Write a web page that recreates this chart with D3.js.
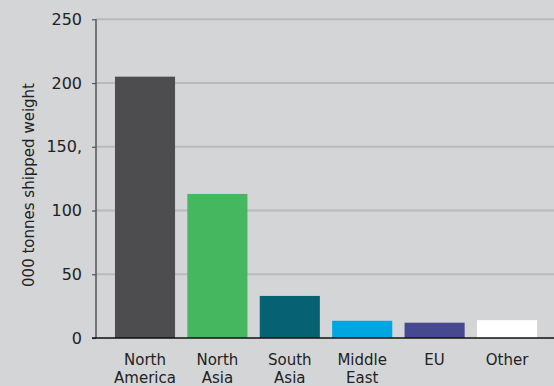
<!DOCTYPE html>
<html><head><meta charset="utf-8">
<script src="https://cdn.jsdelivr.net/npm/d3@7"></script>
<style>html,body{margin:0;padding:0;background:#d4d5d7;}svg{display:block;}</style>
</head><body>
<svg id="c" width="554" height="386"></svg>
<script>
const categories = [["North","America"],["North","Asia"],["South","Asia"],["Middle","East"],["EU"],["Other"]];
const values = [205, 113, 33, 13.5, 12, 14];
const colors = ["#4d4d4f","#45b75f","#066172","#00a6e2","#464891","#ffffff"];
const yTicks = [0,50,100,150,200,250];
const yTickLabels = ["0","50","100","150,","200","250"];
const yTitle = "000 tonnes shipped weight";

const svg = d3.select("#c");
const W = 554, H = 386;
const font = "DejaVu Sans";
const x = d3.scaleBand().domain(d3.range(categories.length)).range([108.8, 543.2]).paddingInner(0.17).paddingOuter(0.085);
const y = d3.scaleLinear().domain([0,250]).range([338, 19.3]);

svg.append("rect").attr("width",W).attr("height",H).attr("fill","#d4d5d7");

// gridlines
svg.append("g").selectAll("line").data(yTicks.filter(d=>d>0)).join("line")
  .attr("x1",96).attr("x2",W).attr("y1",d=>y(d)).attr("y2",d=>y(d))
  .attr("stroke","#b9babc").attr("stroke-width",2);

// bars
svg.append("g").selectAll("rect").data(values).join("rect")
  .attr("x",(d,i)=>x(i)).attr("width",x.bandwidth())
  .attr("y",d=>y(d)).attr("height",d=>y(0)-y(d))
  .attr("fill",(d,i)=>colors[i]);

// y axis
const yAxis = d3.axisLeft(y).tickValues(yTicks).tickSize(4).tickPadding(10)
  .tickFormat((d,i)=>yTickLabels[i]);
const gy = svg.append("g").attr("transform","translate(96,0)").call(yAxis);
gy.select(".domain").attr("stroke","#555").attr("stroke-width",1.5).attr("d","M0,19.3V338");
gy.selectAll(".tick line").attr("stroke","#555").attr("stroke-width",1.2);
gy.selectAll(".tick text").attr("fill","#222").style("font-family",font).style("font-size","16px");

// baseline
svg.append("line").attr("x1",92).attr("x2",W).attr("y1",y(0)).attr("y2",y(0))
  .attr("stroke","#111").attr("stroke-width",1.5);

// category labels
const lab = svg.append("g").selectAll("text").data(categories).join("text")
  .attr("x",(d,i)=>x(i)+x.bandwidth()/2).attr("y",365)
  .attr("text-anchor","middle").attr("fill","#222")
  .style("font-family",font).style("font-size","15px");
lab.selectAll("tspan").data(d=>d).join("tspan")
  .attr("x",function(){return this.parentNode.getAttribute("x");})
  .attr("dy",(d,i)=>i===0?0:17.5).text(d=>d);

// y title
svg.append("text").attr("transform","translate(34,185) rotate(-90)")
  .attr("text-anchor","middle").attr("fill","#222")
  .style("font-family",font).style("font-size","15px").text(yTitle);
</script>
</body></html>
